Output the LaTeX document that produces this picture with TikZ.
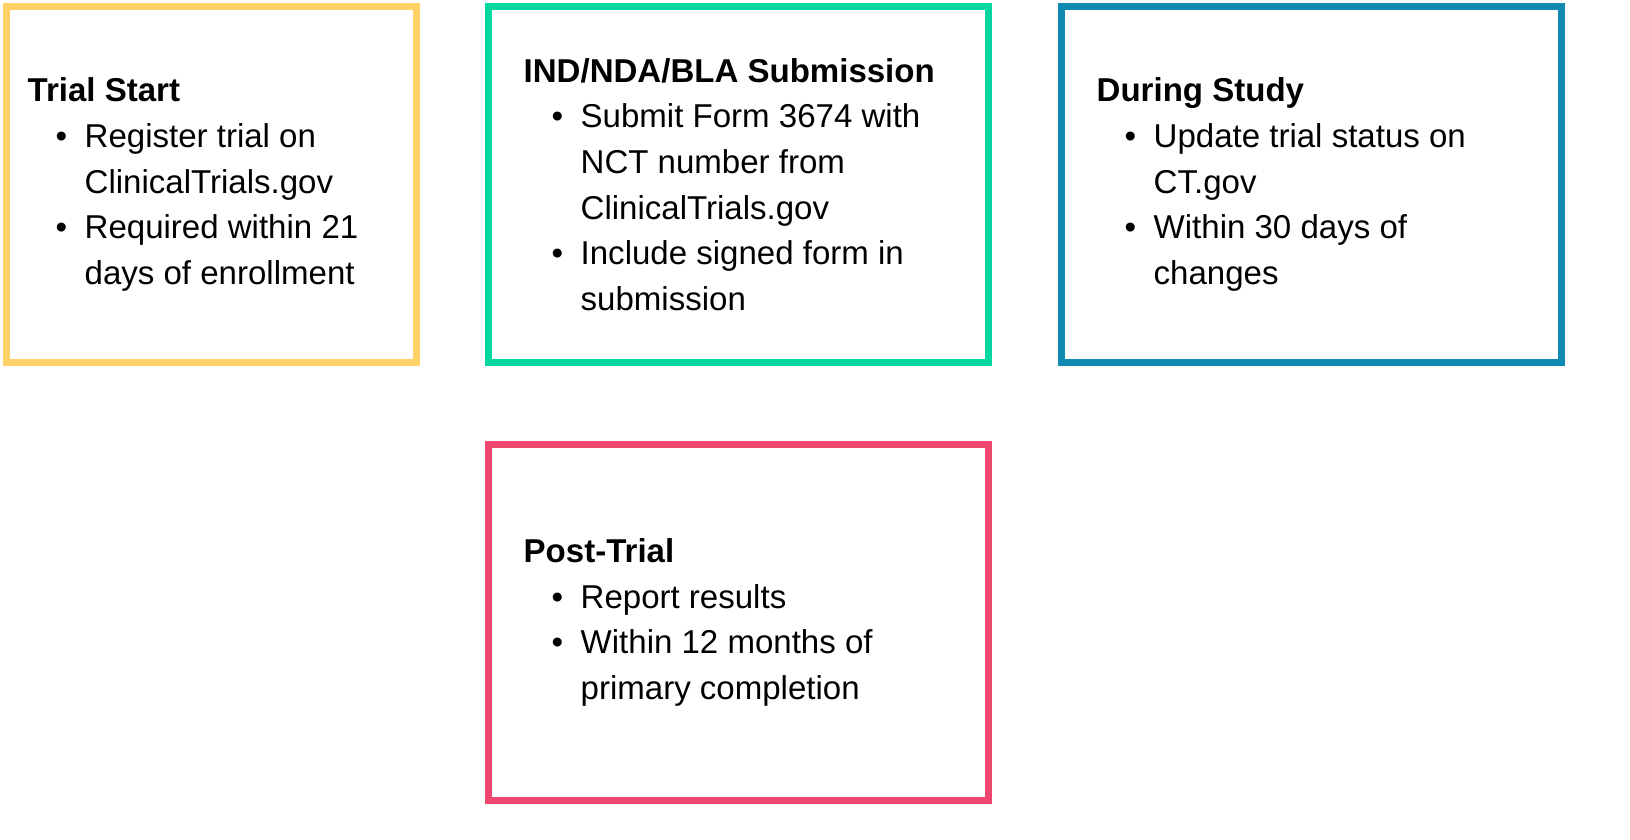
\documentclass[tikz,border=0pt]{standalone}
\usepackage{fontspec}
\setmainfont{Liberation Sans}
\usepackage{enumitem}
\usetikzlibrary{positioning}
\definecolor{ylw}{HTML}{FFD166}
\definecolor{grn}{HTML}{06D6A0}
\definecolor{blu}{HTML}{118AB2}
\definecolor{pnk}{HTML}{EF476F}
\tikzset{
box/.style={draw,line width=2pt,minimum height=3.56cm,inner sep=0pt},
txt/.style={anchor=west,inner sep=0pt,font=\fontsize{9.4pt}{13pt}\selectfont,align=left},
}
\newcommand{\blk}[3]{\begin{minipage}{#1}\raggedright\hyphenpenalty=10000\textbf{#2}%
\begin{itemize}[leftmargin=0.57cm,itemsep=0pt,topsep=0pt,parsep=0pt,partopsep=0pt]#3\end{itemize}\end{minipage}}
\begin{document}
\begin{tikzpicture}
% boxes
\node[box,draw=ylw,minimum width=4.10cm] (start) at (2.115,6.555) {};
\node[box,draw=grn,minimum width=5.00cm] (sub) at (7.385,6.555) {};
\node[box,draw=blu,minimum width=5.00cm] (during) at (13.115,6.555) {};
\node[box,draw=pnk,minimum width=5.00cm] (post) at (7.385,2.175) {};
% texts
\node[txt] (t1) at ([xshift=0.24cm]start.west)
  {\blk{3.7cm}{Trial Start}{\item Register trial on ClinicalTrials.gov \item Required within 21 days of enrollment}};
\node[txt] (t2) at ([xshift=0.38cm]sub.west)
  {\blk{4.3cm}{IND/NDA/BLA Submission}{\item Submit Form 3674 with NCT number from ClinicalTrials.gov \item Include signed form in submission}};
\node[txt] (t3) at ([xshift=0.38cm]during.west)
  {\blk{3.95cm}{During Study}{\item Update trial status on CT.gov \item Within 30 days of changes}};
\node[txt] (t4) at ([xshift=0.38cm]post.west)
  {\blk{4.3cm}{Post-Trial}{\item Report results \item Within 12 months of primary completion}};
\pgfresetboundingbox
\useasboundingbox (0,0) rectangle (16.3,8.4);
\end{tikzpicture}
\end{document}
